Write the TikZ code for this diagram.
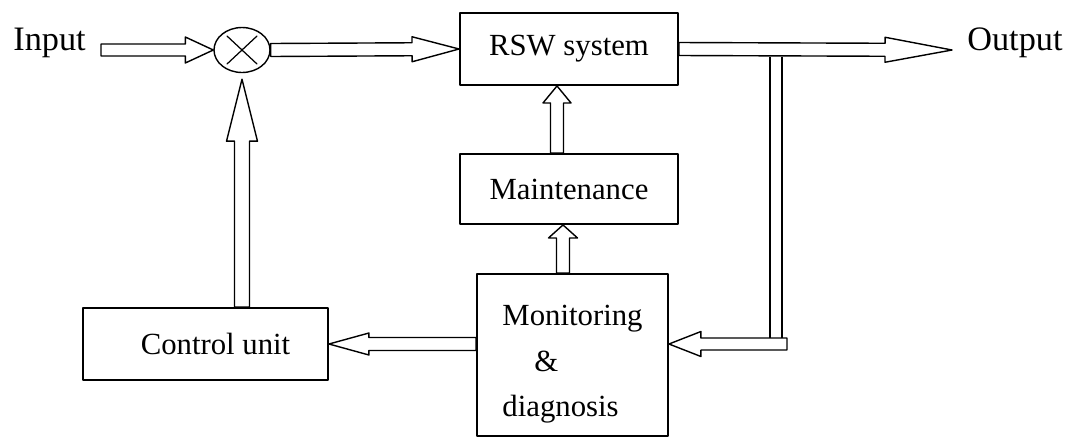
\documentclass[tikz,border=0pt]{standalone}
\usepackage{fontspec}
\setmainfont{Liberation Serif}
\usetikzlibrary{calc, shapes.geometric}

\begin{document}
\begin{tikzpicture}[x=0.02cm, y=-0.02cm, line cap=round, line join=round,
	blk/.style={draw, line width=1.1pt, inner sep=0pt, font=\fontsize{17.5pt}{26pt}\selectfont},
	lbl/.style={inner sep=0pt, font=\fontsize{19.5pt}{23pt}\selectfont},
	sumj/.style={draw, ellipse, line width=0.8pt, minimum width=1.12cm, minimum height=0.9cm, inner sep=0pt,
		path picture={\draw[line width=0.7pt] (path picture bounding box.center) +(-0.3cm,-0.28cm) -- +(0.3cm,0.28cm)
			(path picture bounding box.center) +(-0.3cm,0.28cm) -- +(0.3cm,-0.28cm);}},
	% hollow arrow: {shaft half width}{head length}{head half width}
	hollow/.style n args={3}{line width=0.8pt, to path={
			($(\tikztostart)!#1!90:(\tikztotarget)$)
			-- ($($(\tikztotarget)!#2!(\tikztostart)$)!#1!-90:(\tikztostart)$)
			-- ($($(\tikztotarget)!#2!(\tikztostart)$)!#3!-90:(\tikztostart)$)
			-- (\tikztotarget)
			-- ($($(\tikztotarget)!#2!(\tikztostart)$)!#3!90:(\tikztostart)$)
			-- ($($(\tikztotarget)!#2!(\tikztostart)$)!#1!90:(\tikztostart)$)
			-- ($(\tikztostart)!#1!-90:(\tikztotarget)$) -- cycle}},
	thin line/.style={line width=0.7pt, line cap=butt}]
	
	\useasboundingbox (0,0) rectangle (1071,437);
	
	% ===== Blocks =====
	\node[lbl, anchor=base west] (in) at (13,50) {Input};
	\node[lbl, anchor=base west] (out) at (967,50) {Output};
	\node[sumj] (sum) at (242,50) {};
	\node[blk, minimum width=4.36cm, minimum height=1.44cm] (rsw) at (569,49) {RSW system};
	\node[blk, minimum width=4.36cm, minimum height=1.4cm] (maint) at (569,189) {Maintenance};
	\node[blk, minimum width=3.82cm, minimum height=3.24cm, align=left] (mon) at (572.5,355)
	{\rule{0pt}{22pt}Monitoring\\\hspace*{0.64cm}\&\\diagnosis};
	\node[blk, minimum width=4.9cm, minimum height=1.44cm] (ctrl) at (205.5,344) {\hspace*{0.4cm}Control unit};
	
	% free ends of the connectors
	\coordinate (inA) at ([xshift=0.3cm]in.base east);
	\coordinate (outT) at ([xshift=-0.3cm]out.base west);
	\coordinate (tap) at (776,56.5);
	\coordinate (fb) at (787,344);
	\coordinate (fbT) at (mon.east |- fb);
	\coordinate (fbV) at ([yshift=0.12cm]tap |- fb);
	\coordinate (mw) at (mon.west |- ctrl.east);
	\coordinate (cn) at (ctrl.north -| sum.south);
	\coordinate (sumS) at ([yshift=-0.12cm]sum.south);
	\coordinate (mA) at ([xshift=-0.24cm]maint.north);
	\coordinate (rA) at ([xshift=-0.24cm]rsw.south);
	\coordinate (mnT) at ([xshift=-0.12cm]maint.south);
	\coordinate (mnA) at (mon.north -| mnT);
	
	% ===== Connectors =====
	% thin double line from the output down to the feedback arrow
	\draw[thin line] ([xshift=-0.12cm]tap) -- ([xshift=-0.12cm]fbV)
	([xshift=0.12cm]tap) -- ([xshift=0.12cm]fbV);
	\draw[hollow={0.12cm}{0.56cm}{0.26cm}] (inA) to (sum.west);
	\draw[hollow={0.13cm}{0.94cm}{0.25cm}] (sum.east) to (rsw.west);
	\draw[hollow={0.13cm}{1.34cm}{0.25cm}] (rsw.east) to (outT);
	\draw[hollow={0.12cm}{0.64cm}{0.25cm}] (fb) to (fbT);
	\draw[hollow={0.13cm}{0.8cm}{0.22cm}] (mw) to (ctrl.east);
	\draw[hollow={0.15cm}{1.24cm}{0.31cm}] (cn) to (sumS);
	\draw[hollow={0.13cm}{0.34cm}{0.28cm}] (mA) to (rA);
	\draw[hollow={0.13cm}{0.26cm}{0.29cm}] (mnA) to (mnT);
	
\end{tikzpicture}
\end{document}
